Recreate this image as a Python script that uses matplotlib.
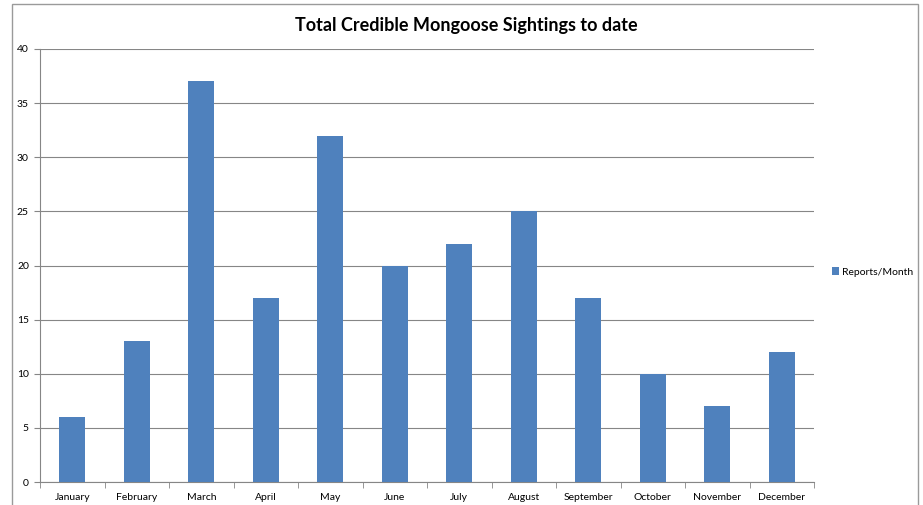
import matplotlib
matplotlib.use('Agg')
import matplotlib.pyplot as plt
from matplotlib.patches import Rectangle

plt.rcParams['font.family'] = ['Lato', 'DejaVu Sans']

months = ['January', 'February', 'March', 'April', 'May', 'June', 'July',
          'August', 'September', 'October', 'November', 'December']
reports = [6, 13, 37, 17, 32, 20, 22, 25, 17, 10, 7, 12]
yticks = [0, 5, 10, 15, 20, 25, 30, 35, 40]

W, H = 923, 505
fig = plt.figure(figsize=(W / 100, H / 100), dpi=100)
ax = fig.add_axes([40 / W, 1 - 482 / H, (814 - 40) / W, (482 - 49) / H])

# outer chart frame (bottom edge cut off like the original)
fig.patches.append(Rectangle((12 / W, -0.05), (918 - 12) / W, 1.05 - 4 / H,
                             transform=fig.transFigure, fill=False,
                             edgecolor='#9a9a9a', linewidth=1.0))

x = list(range(len(months)))
ax.bar(x, reports, width=0.4, color='#4f81bd', zorder=3, label='Reports/Month')

ax.set_xlim(-0.5, len(months) - 0.5)
ax.set_ylim(0, 40)
ax.set_yticks(yticks)
ax.set_yticklabels([str(v) for v in yticks], fontsize=7.5)
ax.set_xticks(x)
ax.set_xticklabels(months, fontsize=7.5)
ax.set_xticks([i - 0.5 for i in range(len(months) + 1)], minor=True)
ax.tick_params(axis='x', which='major', length=0, pad=8)
ax.tick_params(axis='x', which='minor', length=4, color='#868686', direction='out')
ax.tick_params(axis='y', length=4, color='#868686', pad=4)

ax.grid(axis='y', color='#868686', linewidth=0.8, zorder=0)
for s in ['top', 'right']:
    ax.spines[s].set_visible(False)
ax.spines['left'].set_color('#868686')
ax.spines['bottom'].set_color('#868686')

fig.text(466 / W, 1 - 26 / H, 'Total Credible Mongoose Sightings to date',
         ha='center', va='center', fontsize=13, fontweight='bold')

fig.legend(loc='center left', bbox_to_anchor=(832 / W, 1 - 272 / H),
           frameon=False, fontsize=7.5, handlelength=0.7, handleheight=0.7,
           handletextpad=0.3, borderaxespad=0, borderpad=0)

fig.savefig('out.png', dpi=100)
